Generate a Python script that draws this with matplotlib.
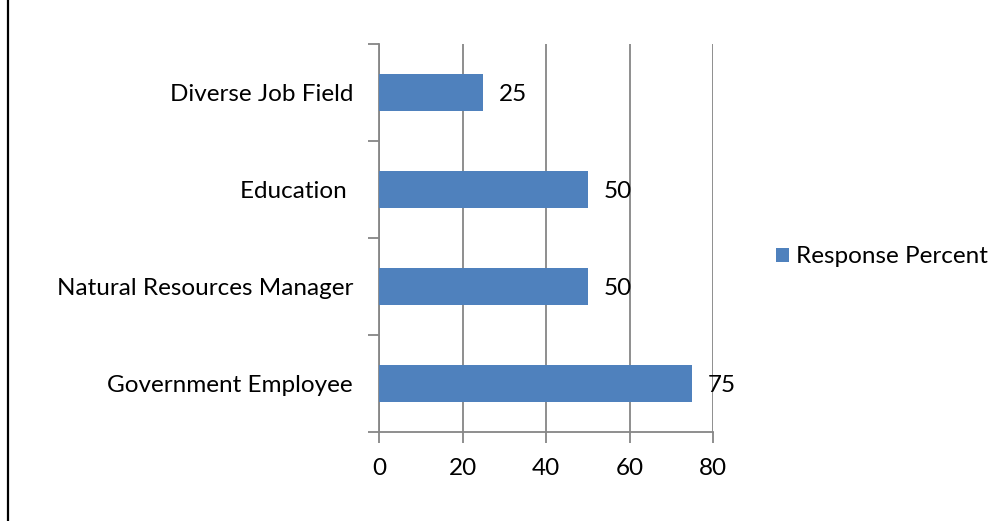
import matplotlib
matplotlib.use("Agg")
import matplotlib.pyplot as plt
from matplotlib.lines import Line2D

categories = ["Government Employee", "Natural Resources Manager", "Education ", "Diverse Job Field"]
response_percent = [75, 50, 50, 25]
x_ticks = [0, 20, 40, 60, 80]
series_name = "Response Percent"

bar_color = "#4F81BD"
grid_color = "#868686"
font_size = 17.5

plt.rcParams["font.family"] = ["Lato", "DejaVu Sans"]

fig = plt.figure(figsize=(10.06, 5.21), dpi=100)
ax = fig.add_axes([379 / 1006, 1 - 432 / 521, 334 / 1006, 388 / 521])

pos = list(range(len(categories)))
bars = ax.barh(pos, response_percent, height=0.39, color=bar_color, label=series_name, zorder=3)

# value labels just past the bar ends
for p, v in zip(pos, response_percent):
    ax.annotate(str(v), (v, p), xytext=(16, -2), textcoords="offset pixels",
                ha="left", va="center", fontsize=font_size, color="black", zorder=4)

ax.set_xlim(0, 80)
ax.set_ylim(-0.5, len(categories) - 0.5)
ax.set_xticks(x_ticks)
ax.set_xticklabels([str(t) for t in x_ticks])

# category names centred in each band, ticks on band boundaries
ax.set_yticks([i + 0.5 for i in range(-1, len(categories))])
ax.set_yticklabels([])
ax.set_yticks(pos, minor=True)
ax.set_yticklabels(categories, minor=True)
ax.tick_params(axis="y", which="minor", length=0, pad=18.7, labelsize=font_size)
ax.tick_params(axis="y", which="major", length=8, width=1.3, color=grid_color, direction="out")
ax.tick_params(axis="x", length=8, width=1.3, color=grid_color, direction="out", pad=10.5, labelsize=font_size)

ax.xaxis.grid(True, color=grid_color, linewidth=1.3, zorder=0)
for side in ["top", "right"]:
    ax.spines[side].set_visible(False)
for side in ["left", "bottom"]:
    ax.spines[side].set_color(grid_color)
    ax.spines[side].set_linewidth(1.3)

leg = fig.legend(handles=[bars], labels=[series_name], loc="center left",
                 bbox_to_anchor=(766 / 1006, 1 - 257 / 521), frameon=False,
                 fontsize=font_size, handlelength=0.55, handleheight=0.55, handletextpad=0.3,
                 borderaxespad=0)

# frame line down the left edge
fig.add_artist(Line2D([7.5 / 1006, 7.5 / 1006], [0, 1], transform=fig.transFigure,
                      color="black", linewidth=1.6))

fig.savefig("out.png", dpi=100)
